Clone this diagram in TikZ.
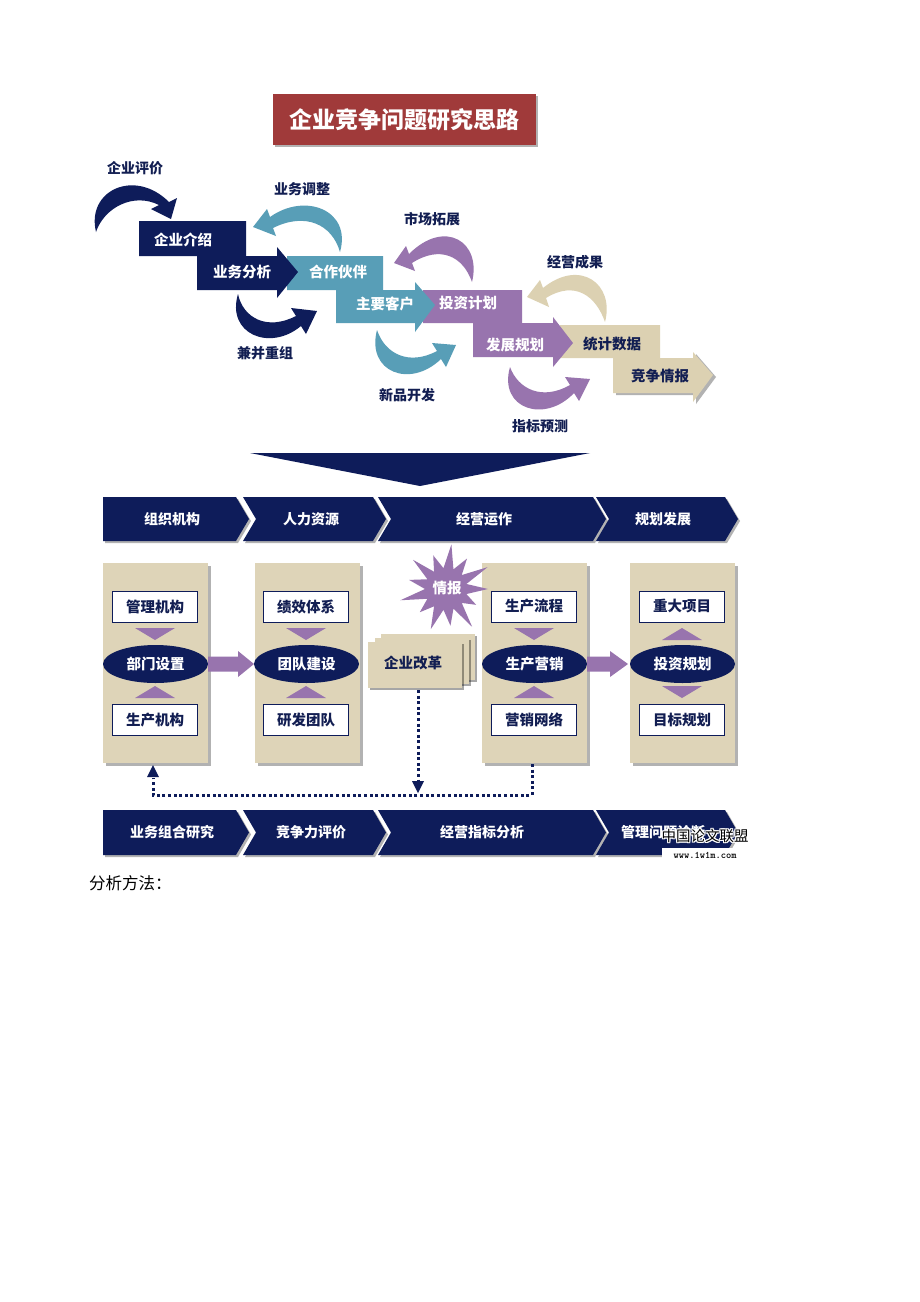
\documentclass[tikz,border=0pt]{standalone}
\usepackage{fontspec}
\setmainfont{Noto Sans CJK SC}
\usetikzlibrary{arrows.meta,shadows,shapes.geometric}
\definecolor{navy}{RGB}{14,28,90}
\definecolor{tealc}{RGB}{88,158,183}
\definecolor{purp}{RGB}{152,116,174}
\definecolor{beig}{RGB}{220,209,178}
\definecolor{panelc}{RGB}{222,212,184}
\definecolor{titlered}{RGB}{160,58,58}
\definecolor{labnavy}{RGB}{18,30,82}
\newcommand\fsz[1]{\fontsize{#1}{#1}\selectfont}
\begin{document}
\begin{tikzpicture}[x=1pt,y=-1pt,
  steplab/.style={text=white,font=\fsz{14.5}\bfseries,inner sep=0pt},
  arrlab/.style={text=labnavy,font=\fsz{14}\bfseries,inner sep=0pt},
  chevlab/.style={text=white,font=\fsz{14}\bfseries,inner sep=0pt},
  panel/.style={fill=panelc,minimum width=105pt,minimum height=200pt,inner sep=0pt,
     drop shadow={shadow xshift=2.5pt,shadow yshift=-2.5pt,fill=black,opacity=.3}},
  wbox/.style={fill=white,draw=navy,line width=1pt,minimum width=85pt,minimum height=31pt,
     inner sep=0pt,text=labnavy,font=\fsz{14.5}\bfseries},
  ell/.style={ellipse,fill=navy,minimum width=105pt,minimum height=38pt,inner sep=0pt,
     text=white,font=\fsz{14.5}\bfseries},
  card/.style={fill=panelc,minimum width=94pt,minimum height=46pt,inner sep=0pt,
     drop shadow={shadow xshift=2pt,shadow yshift=-2pt,fill=black,opacity=.35}},
  dotline/.style={draw=navy,line width=3pt,dash pattern=on 3pt off 2.6pt},
  wm/.style={font=\fsz{14.5},inner sep=0pt,text=black},
]
\useasboundingbox (0,0) rectangle (920,1302);
\fill[white] (0,0) rectangle (920,1302);

% ---------- title ----------
\node[fill=titlered,minimum width=263pt,minimum height=51pt,inner sep=0pt,text=white,
  font=\fsz{23}\bfseries,drop shadow={shadow xshift=2pt,shadow yshift=-2pt,fill=black,opacity=.3}]
  (title) at (404.5,119.5) {企业竞争问题研究思路};

% ---------- staircase ----------
\fill[black!30] (616,360) -- (696,360) -- (696,354) -- (716,377) -- (696,404) -- (696,395) -- (616,395) -- cycle;
\fill[beig] (560,325) -- (660,325) -- (660,358) -- (693,358) -- (693,352) -- (713,375) -- (693,402)
  -- (693,393) -- (613,393) -- (613,358) -- (560,358) -- cycle;
\fill[purp] (423,290) -- (522,290) -- (522,323) -- (553,323) -- (553,317) -- (573,343) -- (553,367)
  -- (553,357) -- (473,357) -- (473,323) -- (423,323) -- cycle;
\fill[tealc] (287,256) -- (383,256) -- (383,290) -- (415,290) -- (415,282) -- (435,305) -- (415,332)
  -- (415,323) -- (336,323) -- (336,290) -- (287,290) -- cycle;
\fill[navy] (139,221) -- (246,221) -- (246,256) -- (277,256) -- (277,247) -- (298,272) -- (277,298)
  -- (277,290) -- (197,290) -- (197,256) -- (139,256) -- cycle;

\node[steplab] (s1) at (183,240) {企业介绍};
\node[steplab] (s2) at (242,272) {业务分析};
\node[steplab] (s3) at (338,272) {合作伙伴};
\node[steplab] (s4) at (385,304) {主要客户};
\node[steplab] (s5) at (468,303) {投资计划};
\node[steplab] (s6) at (515,345) {发展规划};
\node[steplab,text=labnavy] (s7) at (612,344) {统计数据};
\node[steplab,text=labnavy] (s8) at (660,376) {竞争情报};

% ---------- curved arrows ----------
\fill[navy] (96,232) .. controls (86,190) and (135,168) .. (169,202) -- (177,198) -- (171,219)
  -- (151,209) -- (159,205) .. controls (133,192) and (104,208) .. (96,232) -- cycle;
\fill[tealc] (340,252) .. controls (352,210) and (305,192) .. (270,217) -- (267,209) -- (253,227)
  -- (276,236) -- (273,228) .. controls (305,212) and (332,224) .. (340,252) -- cycle;
\fill[navy] (238,294) .. controls (226,334) and (270,352) .. (301,326) -- (306,334) -- (317,311)
  -- (291,308) -- (296,316) .. controls (267,331) and (243,318) .. (238,294) -- cycle;
\fill[purp] (472,282) .. controls (482,242) and (445,218) .. (409,254) -- (406,246) -- (394,263)
  -- (415,271) -- (412,263) .. controls (440,245) and (463,256) .. (472,282) -- cycle;
\fill[tealc] (377,330) .. controls (366,372) and (410,389) .. (441,359) -- (446,367) -- (456,345)
  -- (432,343) -- (437,351) .. controls (409,366) and (385,354) .. (377,330) -- cycle;
\fill[beig] (605,322) .. controls (615,284) and (580,258) .. (543,288) -- (540,280) -- (527,297)
  -- (549,307) -- (546,298) .. controls (575,280) and (596,296) .. (605,322) -- cycle;
\fill[purp] (510,367) .. controls (498,409) and (545,424) .. (574,393) -- (579,401) -- (590,379)
  -- (565,377) -- (570,385) .. controls (542,401) and (518,389) .. (510,367) -- cycle;

\node[arrlab] (a1) at (135,168) {企业评价};
\node[arrlab] (a2) at (302,189) {业务调整};
\node[arrlab] (a3) at (265,353) {兼并重组};
\node[arrlab] (a4) at (432,219) {市场拓展};
\node[arrlab] (a5) at (407,395) {新品开发};
\node[arrlab] (a6) at (575,262) {经营成果};
\node[arrlab] (a7) at (540,426) {指标预测};

% ---------- big down triangle ----------
\fill[navy] (250,453) -- (590,453) -- (420,486) -- cycle;

% ---------- chevrons ----------
\foreach \xl/\xr/\n in {103/236/0,243/373/1,378/593/1,596/725/1} {
  \pgfmathsetmacro\xt{\xr+13}
  \pgfmathsetmacro\xn{\xl+13*\n}
  \fill[black!30] (\xl+2,499) -- (\xr+2,499) -- (\xt+2,521) -- (\xr+2,543) -- (\xl+2,543) -- (\xn+2,521) -- cycle;
  \fill[navy] (\xl,497) -- (\xr,497) -- (\xt,519) -- (\xr,541) -- (\xl,541) -- (\xn,519) -- cycle;
  \fill[black!30] (\xl+2,812) -- (\xr+2,812) -- (\xt+2,834.5) -- (\xr+2,857) -- (\xl+2,857) -- (\xn+2,834.5) -- cycle;
  \fill[navy] (\xl,810) -- (\xr,810) -- (\xt,832.5) -- (\xr,855) -- (\xl,855) -- (\xn,832.5) -- cycle;
}
\node[chevlab] (c1) at (172,519) {组织机构};
\node[chevlab] (c2) at (311,519) {人力资源};
\node[chevlab] (c3) at (484,519) {经营运作};
\node[chevlab] (c4) at (663,519) {规划发展};
\node[chevlab] (b1) at (172,832) {业务组合研究};
\node[chevlab] (b2) at (311,832) {竞争力评价};
\node[chevlab] (b3) at (482,832) {经营指标分析};
\node[chevlab] (b4) at (663,832) {管理问题诊断};

% ---------- panels ----------
\node[panel] (p1) at (155.5,663) {};
\node[panel] (p2) at (307.5,663) {};
\node[panel] (p3) at (534.5,663) {};
\node[panel] (p4) at (682.5,663) {};

% cards
\node[card] (k3) at (428,657) {};
\node[card] (k2) at (421.5,661) {};
\node[card] (k1) at (415,665) {};
\node[text=labnavy,font=\fsz{14.5}\bfseries,inner sep=0pt] (k1t) at (413,663) {企业改革};

% star
\begin{scope}[shift={(446,589)}]
\fill[purp] (0:42) \foreach \i/\r in {1/34,2/46,3/37,4/43,5/35,6/47,7/38,8/44,9/36,10/45,11/37,12/47} {
   -- ({\i*27.69-13.85}:21) -- ({\i*27.69}:\r) } -- ({12.5*27.69}:21) -- cycle;
\end{scope}
\node[text=white,font=\fsz{14.5}\bfseries,inner sep=0pt] (star) at (447,588) {情报};

% boxes and ellipses
\foreach \p/\cx/\t/\m/\b in {1/155/管理机构/部门设置/生产机构,2/306/绩效体系/团队建设/研发团队,
                             3/534/生产流程/生产营销/营销网络,4/682/重大项目/投资规划/目标规划} {
  \node[wbox] (t\p) at (\cx,606.5) {\t};
  \node[ell] (m\p) at (\cx+0.5,664) {\m};
  \node[wbox] (u\p) at (\cx,720) {\b};
}
% small triangles
\foreach \cx in {155,306,534} {
  \fill[purp] (\cx-20,628) -- (\cx+20,628) -- (\cx,640) -- cycle;
  \fill[purp] (\cx-20,698) -- (\cx+20,698) -- (\cx,686) -- cycle;
}
\fill[purp] (662,640) -- (702,640) -- (682,628) -- cycle;
\fill[purp] (662,686) -- (702,686) -- (682,698) -- cycle;

% block arrows
\fill[purp] (208,656.5) -- (238,656.5) -- (238,651) -- (254,664) -- (238,677) -- (238,671.5) -- (208,671.5) -- cycle;
\fill[purp] (587,656.5) -- (610,656.5) -- (610,651) -- (628,664) -- (610,677) -- (610,671.5) -- (587,671.5) -- cycle;

% dotted connectors
\coordinate (q1) at (532,764);
\coordinate (q2) at (532,795);
\coordinate (q3) at (153,795);
\coordinate (q4) at (153,765);
\coordinate (r1) at (418,690);
\coordinate (r2) at (418,793);
\draw[dotline] (q1) -- (q2) -- (q3) -- (153,778);
\fill[navy] (q4) -- (147,777) -- (159,777) -- cycle;
\draw[dotline] (r1) -- (418,784);
\fill[navy] (r2) -- (412,781) -- (424,781) -- cycle;

% watermark
\fill[white] (662,848) rectangle (750,862);
\foreach \dx/\dy in {-1/0,1/0,0/-1,0/1,-1/-1,1/1,-1/1,1/-1}
  \node[wm,text=white] at (705+\dx,836+\dy) {中国论文联盟};
\node[wm] (wm1) at (705,836) {中国论文联盟};
\node[font=\fsz{10}\ttfamily\bfseries,inner sep=0pt,text=black] (wm2) at (705,855) {www.1w1m.com};

% caption
\node[anchor=west,font=\fsz{16.5},inner sep=0pt,text=black] (cap) at (89,883) {分析方法：};
\end{tikzpicture}
\end{document}
